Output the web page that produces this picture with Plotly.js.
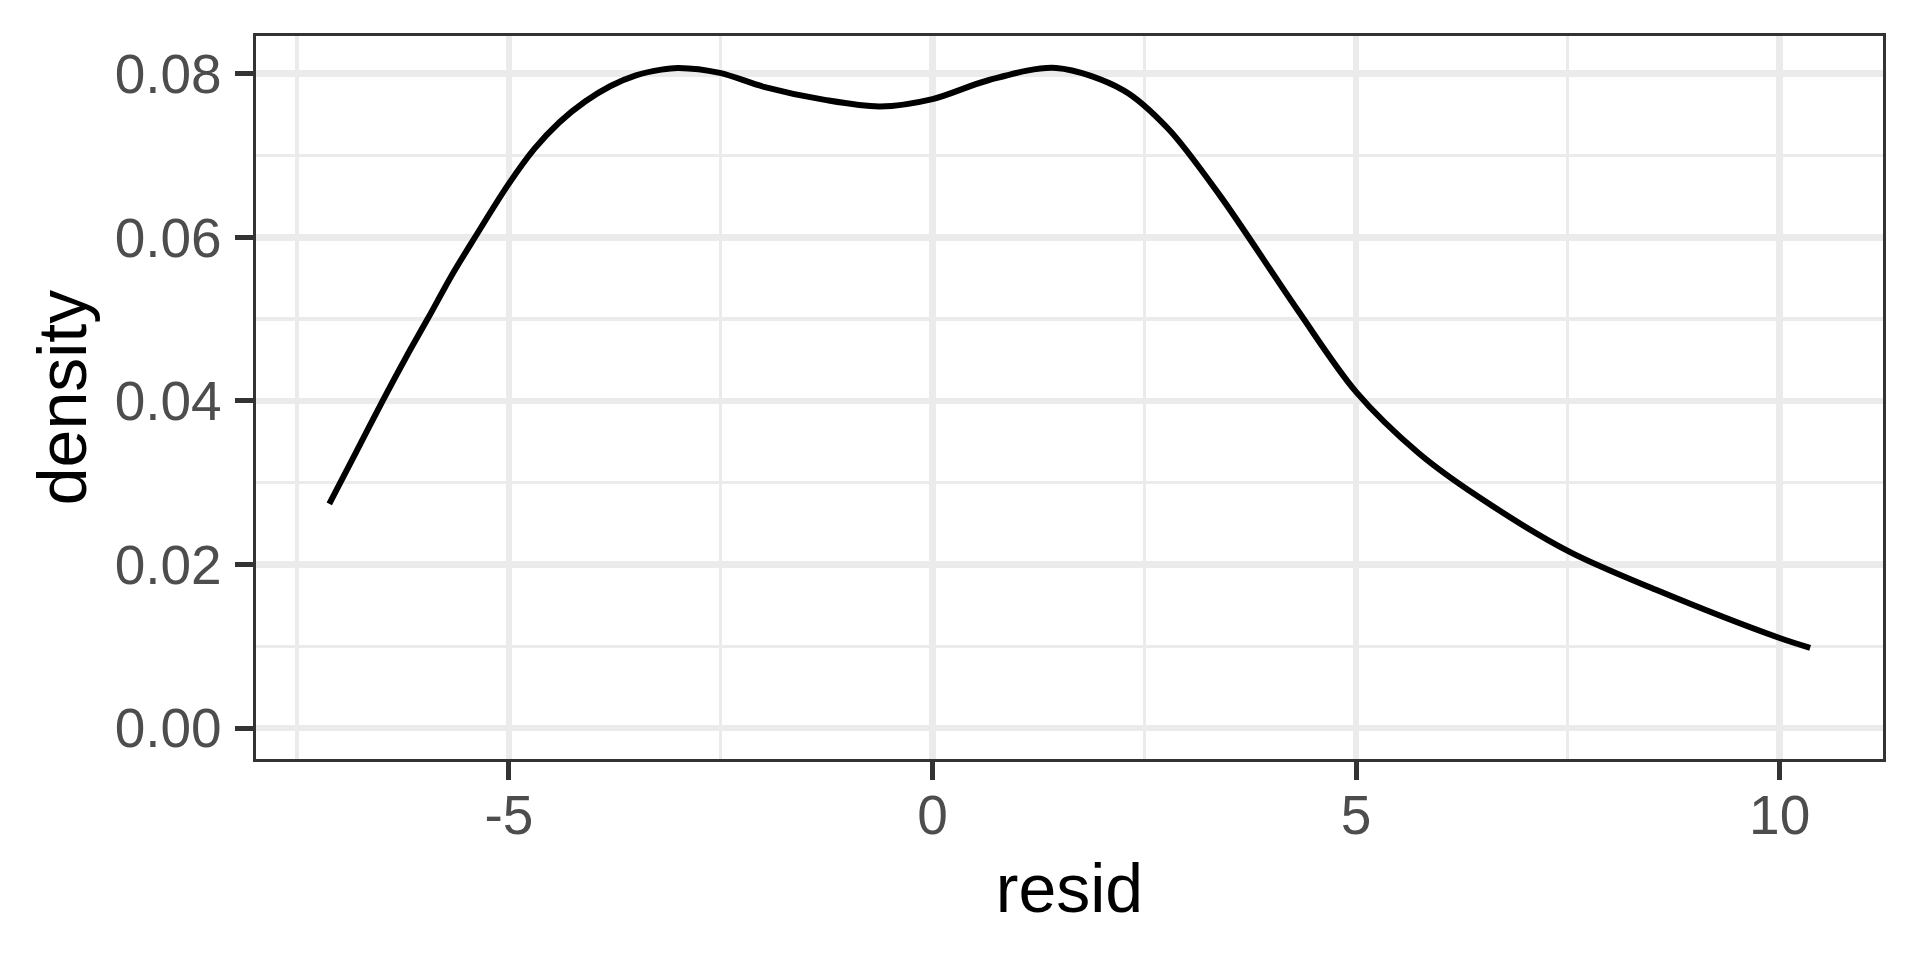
<!DOCTYPE html>
<html>
<head>
<meta charset="utf-8">
<script src="https://cdn.plot.ly/plotly-3.0.1.min.js"></script>
<style>
    html, body { margin: 0; padding: 0; background: #ffffff; }
    #density_plot { width: 1920px; height: 960px; }
</style>
</head>
<body>
<div id="density_plot"></div>
<script>
// kernel density of the residuals
var resid = [-7.12, -6.80, -6.49, -6.21, -5.96, -5.66, -5.40, -5.01, -4.70, -4.40, -4.10, -3.80, -3.50, -3.20, -3.00, -2.51, -1.99, -1.27, -0.62, 0.00, 0.66, 1.46, 2.25, 2.78, 3.40, 4.31, 5.00, 5.74, 6.44, 7.51, 8.54, 10.00, 10.36];
var density = [0.0274, 0.0338, 0.0400, 0.0454, 0.0500, 0.0556, 0.0600, 0.0664, 0.0708, 0.0741, 0.0766, 0.0785, 0.0798, 0.0805, 0.0807, 0.0801, 0.0784, 0.0768, 0.0760, 0.0769, 0.0792, 0.0807, 0.0780, 0.0733, 0.0650, 0.0511, 0.0411, 0.0336, 0.0283, 0.0216, 0.0169, 0.0110, 0.0098];

var xTickVals = [-5, 0, 5, 10];
var xTickText = ['-5', '0', '5', '10'];
var yTickVals = [0, 0.02, 0.04, 0.06, 0.08];
var yTickText = ['0.00', '0.02', '0.04', '0.06', '0.08'];

var fontFamily = '"Liberation Sans", Arial, Helvetica, sans-serif';

var curve =
{
    type: 'scatter',
    mode: 'lines',
    x: resid,
    y: density,
    line:
    {
        color: '#000000',
        width: 6,
        shape: 'spline',
        smoothing: 0.9
    },
    hoverinfo: 'x+y'
};

var layout =
{
    width: 1920,
    height: 960,
    paper_bgcolor: '#ffffff',
    plot_bgcolor: '#ffffff',
    showlegend: false,
    margin: { l: 256, r: 37, t: 36, b: 201 },
    font: { family: fontFamily },
    xaxis:
    {
        range: [-7.985, 11.22],
        tickmode: 'array',
        tickvals: xTickVals,
        ticktext: xTickText,
        ticks: 'outside',
        ticklen: 18,
        tickwidth: 5,
        tickcolor: '#333333',
        ticklabelstandoff: -12,
        tickfont: { family: fontFamily, size: 55, color: '#4d4d4d' },
        showgrid: true,
        gridcolor: '#ebebeb',
        gridwidth: 6.5,
        minor:
        {
            tickmode: 'linear',
            tick0: 0,
            dtick: 2.5,
            showgrid: true,
            gridcolor: '#ebebeb',
            gridwidth: 3.3,
            ticks: ''
        },
        zeroline: false,
        showline: true,
        mirror: true,
        linecolor: '#333333',
        linewidth: 3.3,
        title:
        {
            text: 'resid',
            font: { family: fontFamily, size: 68, color: '#000000' },
            standoff: 20
        }
    },
    yaxis:
    {
        range: [-0.00379, 0.08461],
        tickmode: 'array',
        tickvals: yTickVals,
        ticktext: yTickText,
        ticks: 'outside',
        ticklen: 18,
        tickwidth: 5,
        tickcolor: '#333333',
        ticklabelstandoff: 2,
        tickfont: { family: fontFamily, size: 55, color: '#4d4d4d' },
        showgrid: true,
        gridcolor: '#ebebeb',
        gridwidth: 6.5,
        minor:
        {
            tickmode: 'linear',
            tick0: 0,
            dtick: 0.01,
            showgrid: true,
            gridcolor: '#ebebeb',
            gridwidth: 3.3,
            ticks: ''
        },
        zeroline: false,
        showline: true,
        mirror: true,
        linecolor: '#333333',
        linewidth: 3.3,
        title:
        {
            text: 'density',
            font: { family: fontFamily, size: 68, color: '#000000' },
            standoff: 7
        }
    }
};

var config =
{
    staticPlot: true,
    displayModeBar: false
};

Plotly.newPlot('density_plot', [curve], layout, config);
</script>
</body>
</html>
